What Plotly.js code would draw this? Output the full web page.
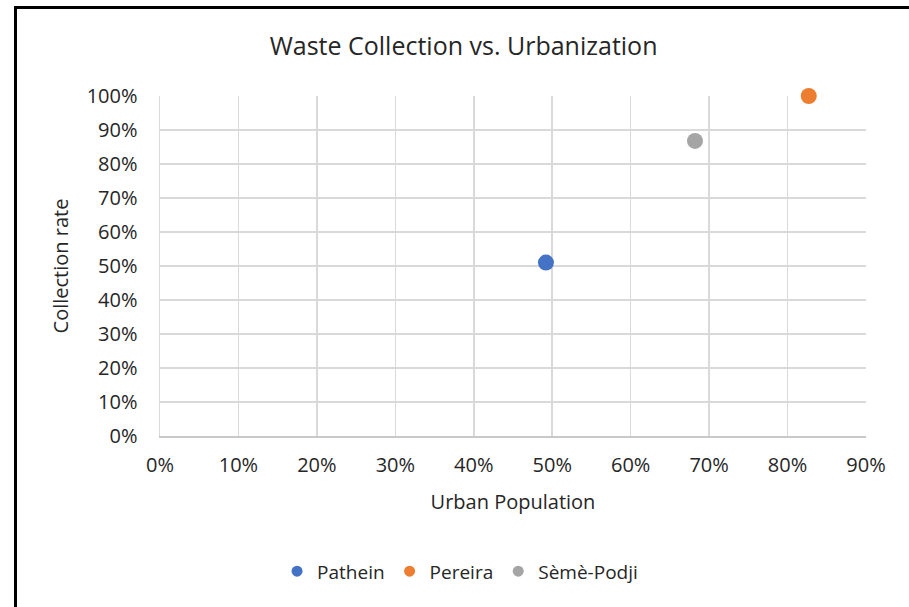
<!DOCTYPE html>
<html>
<head>
<meta charset="utf-8">
<script src="https://cdn.plot.ly/plotly-3.0.1.min.js"></script>
<style>
html,body{margin:0;padding:0;background:#fff;}
#wrap{position:relative;width:909px;height:607px;overflow:hidden;}
#chart{width:909px;height:607px;}
#frame{position:absolute;left:14px;top:6px;width:1000px;height:1000px;border-left:3px solid #000;border-top:3px solid #000;pointer-events:none;}
</style>
</head>
<body>
<div id="wrap"><div id="chart"></div><div id="frame"></div></div>
<script>
const cities = ["Pathein", "Pereira", "Sèmè-Podji"];
const urbanPopulation = [0.492, 0.827, 0.682];
const collectionRate = [0.51, 1.00, 0.868];
const colors = ["#4472C4", "#ED7D31", "#A5A5A5"];
const xTicks = [0,0.1,0.2,0.3,0.4,0.5,0.6,0.7,0.8,0.9];
const yTicks = [0,0.1,0.2,0.3,0.4,0.5,0.6,0.7,0.8,0.9,1.0];

const FONT = "'Open Sans', Lato, sans-serif";

const dataTraces = cities.map((c, i) => ({
  type: "scatter",
  mode: "markers",
  name: c,
  legendgroup: c,
  showlegend: false,
  x: [urbanPopulation[i]],
  y: [collectionRate[i]],
  cliponaxis: false,
  marker: {color: colors[i], size: 16}
}));
const legendTraces = cities.map((c, i) => ({
  type: "scatter",
  mode: "markers",
  name: c,
  legendgroup: c,
  showlegend: true,
  x: [null],
  y: [null],
  marker: {color: colors[i], size: 11}
}));

const layout = {
  width: 909, height: 607,
  margin: {l: 160, r: 43, t: 96, b: 171},
  paper_bgcolor: "#fff",
  plot_bgcolor: "#fff",
  font: {family: FONT, color: "#262626", size: 20},
  showlegend: true,
  title: {text: "Waste Collection vs. Urbanization", font: {size: 25, family: FONT, color: "#262626"}, x: 0.51, xanchor: "center", y: 0.924, yanchor: "middle"},
  xaxis: {
    range: [0, 0.9], tickvals: xTicks, tickformat: ".0%",
    showgrid: true, gridcolor: "#d9d9d9", gridwidth: 1.5,
    zeroline: false, showline: true, linecolor: "#c8c8c8", linewidth: 1.5,
    ticks: "", ticklabelstandoff: 10, fixedrange: true,
    title: {text: "Urban Population", font: {size: 20}, standoff: 18}
  },
  yaxis: {
    range: [0, 1.0], tickvals: yTicks, tickformat: ".0%",
    showgrid: true, gridcolor: "#d9d9d9", gridwidth: 1.5,
    zeroline: false, showline: true, linecolor: "#d9d9d9", linewidth: 1.5,
    ticks: "", ticklabelstandoff: 17, fixedrange: true,
    title: {text: "Collection rate", font: {size: 20}, standoff: 12}
  },
  legend: {orientation: "h", x: 0.425, xanchor: "center", y: -0.398, yanchor: "middle", font: {size: 19}, itemwidth: 30},
};

Plotly.newPlot("chart", dataTraces.concat(legendTraces), layout, {displayModeBar: false, staticPlot: true});
</script>
</body>
</html>
